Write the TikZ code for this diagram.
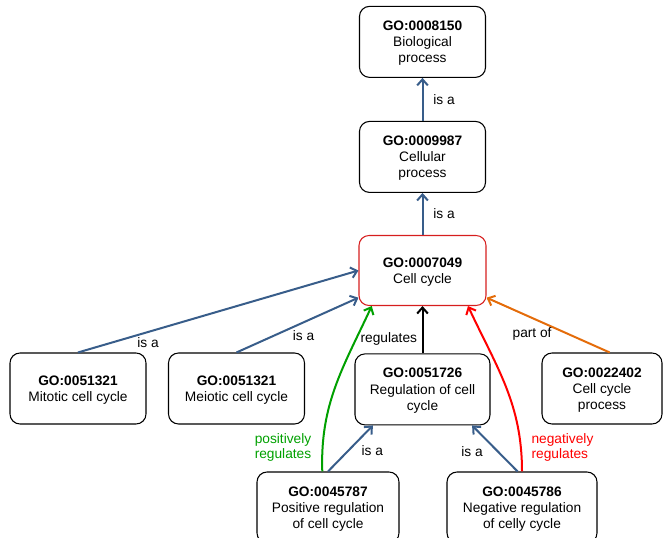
\documentclass[tikz,border=0pt]{standalone}
\usepackage{fontspec}
\setmainfont{Liberation Sans}
\usetikzlibrary{positioning}
\usetikzlibrary{arrows.meta}
\definecolor{isablue}{RGB}{56,93,138}
\definecolor{boxred}{RGB}{214,30,30}
\definecolor{posgreen}{RGB}{0,160,0}
\definecolor{negred}{RGB}{255,0,0}
\definecolor{partorange}{RGB}{228,108,10}

\begin{document}
\begin{tikzpicture}[x=0.75pt, y=-0.75pt, >={Straight Barb[length=4.5pt, width=8pt]},
    term/.style={draw, line width=0.8, rounded corners=7.5, align=center, minimum width=102pt, minimum height=53.25pt, inner sep=2pt, text depth=0pt, font=\fontsize{10.3}{12.2}\selectfont},
    lbl/.style={font=\fontsize{10.3}{11.5}\selectfont, align=left},
    isa/.style={->, draw=isablue, line width= 1.5}]
        \useasboundingbox (0,0) rectangle (664,538);

        % nodes %
        \node[term, draw=boxred, minimum width=95.25pt, minimum height=52.5pt] (cc) at (422.5,270.5) {\textbf{GO:0007049}\\Cell cycle};
        \node[term, minimum width=94.5pt, above=31.5pt of cc] (cp) {\textbf{GO:0009987}\\Cellular\\process};
        \node[term, minimum width=94.5pt, above=32.25pt of cp] (bp) {\textbf{GO:0008150}\\Biological\\process};
        \node[term, minimum width=101.25pt, below=35.5pt of cc] (reg) {\textbf{GO:0051726}\\Regulation of cell\\cycle};
        \node[term] (mit) at (78,388.5) {\textbf{GO:0051321}\\Mitotic cell cycle};
        \node[term] (mei) at (236.5,388.5) {\textbf{GO:0051321}\\Meiotic cell cycle};
        \node[term, minimum width=90pt] (ccp) at (602,388.5) {\textbf{GO:0022402}\\Cell cycle\\process};
        \node[term, minimum width=106.5pt] (pos) at (328,507.5) {\textbf{GO:0045787}\\Positive regulation\\of cell cycle};
        \node[term, minimum width=112.5pt] (neg) at (522,507.5) {\textbf{GO:0045786}\\Negative regulation\\of celly cycle};

        % edges %
        \draw[isa] (cp) -- node[lbl, right=4pt] (isa1) {is a} (bp);
        \draw[isa] (cc) -- node[lbl, right=4pt] (isa2) {is a} (cp);
        \draw[isa] (mit.north) -- node[lbl, pos=0.25, below] (isa3) {is a} (cc.west);
        \draw[isa] (mei.north) -- node[lbl, pos=0.55, below=2pt] (isa4) {is a} (cc.203);
        \draw[->, line width= 1.5] (reg) -- node[lbl, pos=0.3, left] (regl) {regulates} (cc);
        \draw[->, draw=partorange, line width= 1.5] (ccp.78) -- node[lbl, pos=0.63, below=3pt] (partl) {part of} (cc.337);
        \draw[isa] (pos.north) -- node[lbl, pos=0.45, right=6pt] (isa5) {is a} (reg.216);
        \draw[isa] (neg.97) -- node[lbl, pos=0.44, left=7pt] (isa6) {is a} (reg.324);
        \draw[->, draw=posgreen, line width= 1.5] (pos.99) to[out=92, in=245] (cc.215);
        \draw[->, draw=negred, line width= 1.5] (neg.north) to[out=90, in=295] (cc.322);
        \node[lbl, text=posgreen] (posl) at (283,447.5) {positively\\regulates};
        \node[lbl, text=negred] (negl) at (562.5,447.5) {negatively\\regulates};
      \end{tikzpicture}
\end{document}
